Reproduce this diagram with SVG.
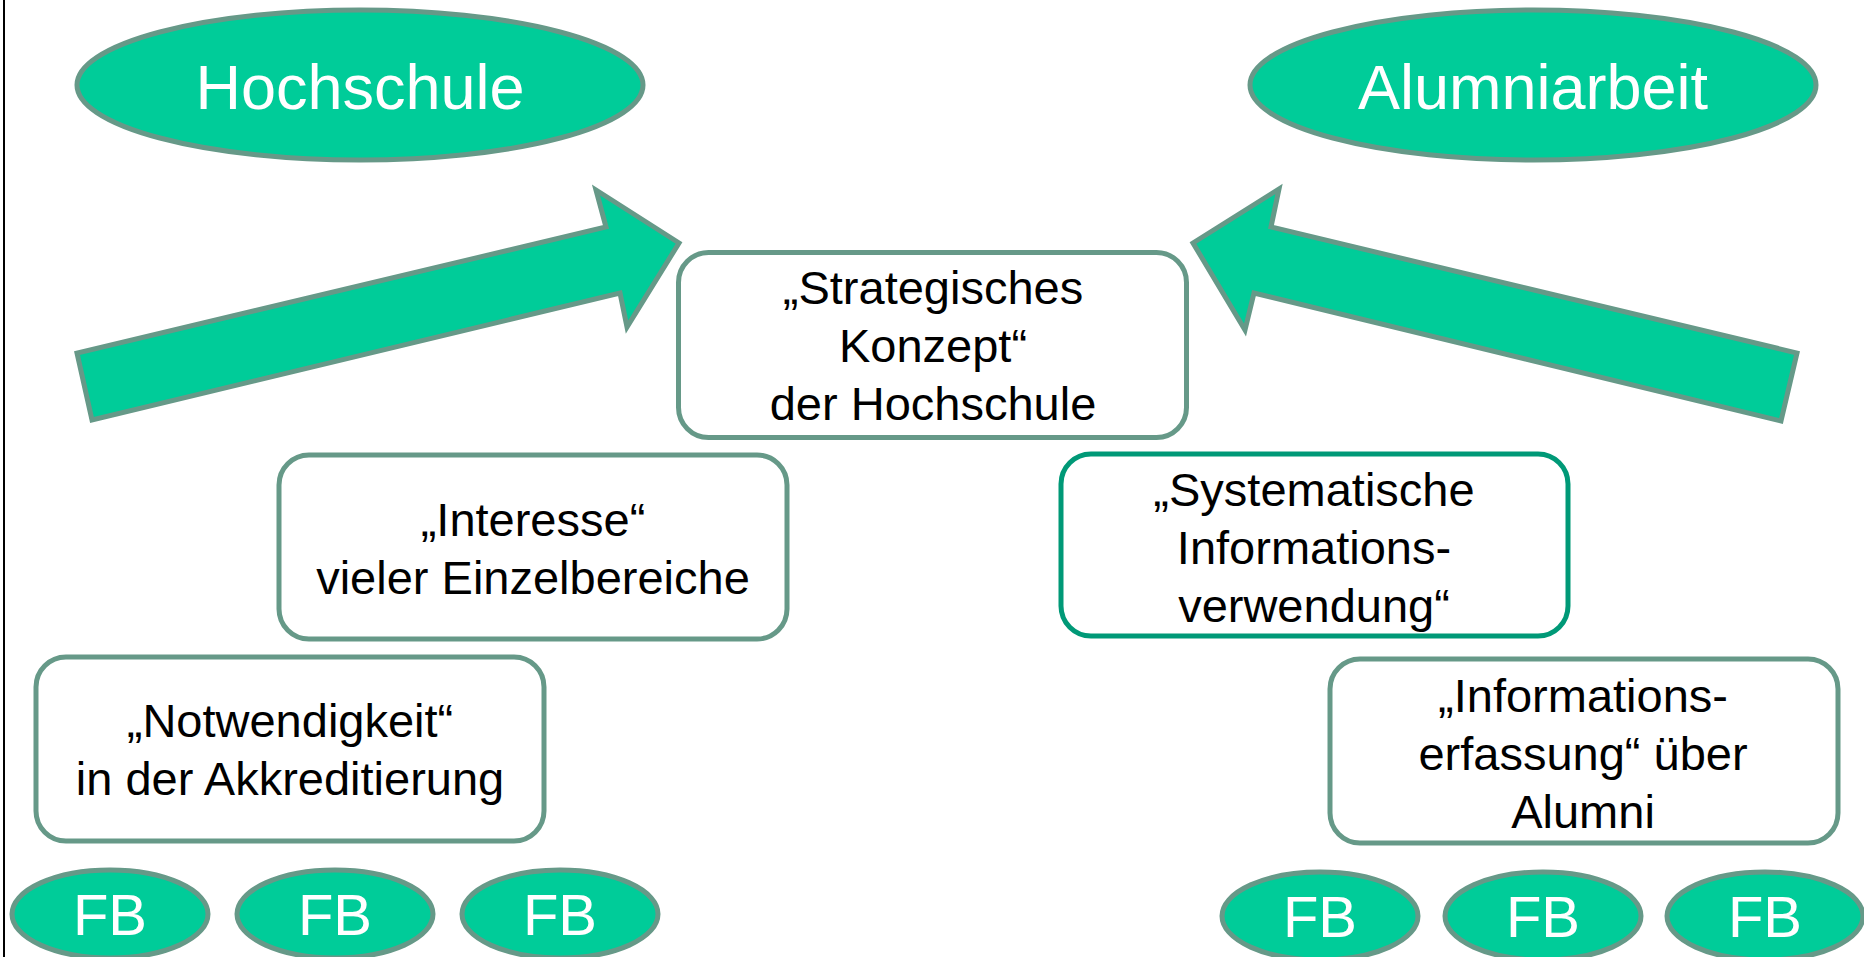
<svg xmlns="http://www.w3.org/2000/svg" width="1864" height="957" viewBox="0 0 1864 957">
<style>
.ell{fill:#00CC99;stroke:#669988;stroke-width:5}
.box{fill:#FFFFFF;stroke:#669988;stroke-width:5}
.box2{fill:#FFFFFF;stroke:#009977;stroke-width:5}
.arr{fill:#00CC99;stroke:#669988;stroke-width:5;stroke-linejoin:miter}
.big{font-family:"Liberation Sans",Arial,sans-serif;font-size:63px;fill:#FFFFFF;text-anchor:middle}
.fb{font-family:"Liberation Sans",Arial,sans-serif;font-size:58px;fill:#FFFFFF;text-anchor:middle}
.t{font-family:"Liberation Sans",Arial,sans-serif;font-size:47px;fill:#000000;text-anchor:middle}
</style>
<rect x="0" y="0" width="1864" height="957" fill="#FFFFFF"/>
<line x1="4" y1="0" x2="4" y2="957" stroke="#000000" stroke-width="2"/>
<g id="connectors">
<polygon class="arr" points="92,420 77,353 606,227 596,190 679,243 627,327 620,293"/>
<polygon class="arr" points="1781,421 1797,353 1271,227 1279,189 1193,243 1245,330 1254,293"/>
</g>
<g id="hochschule">
<ellipse class="ell" cx="360" cy="85" rx="283" ry="75"/>
<text class="big" x="360" y="109">Hochschule</text>
</g>
<g id="alumniarbeit">
<ellipse class="ell" cx="1533" cy="85" rx="283" ry="75"/>
<text class="big" x="1533" y="109">Alumniarbeit</text>
</g>
<g id="strategisches">
<rect class="box" x="678.5" y="252.5" width="508" height="185" rx="30"/>
<text class="t" x="933" y="304">„Strategisches</text>
<text class="t" x="933" y="362">Konzept“</text>
<text class="t" x="933" y="420">der Hochschule</text>
</g>
<g id="interesse">
<rect class="box" x="279" y="455" width="508" height="184" rx="30"/>
<text class="t" x="533" y="536">„Interesse“</text>
<text class="t" x="533" y="594">vieler Einzelbereiche</text>
</g>
<g id="notwendigkeit">
<rect class="box" x="36" y="657" width="508" height="184" rx="30"/>
<text class="t" x="290" y="737">„Notwendigkeit“</text>
<text class="t" x="290" y="795">in der Akkreditierung</text>
</g>
<g id="systematische">
<rect class="box2" x="1061" y="454" width="507" height="182" rx="30"/>
<text class="t" x="1314" y="506">„Systematische</text>
<text class="t" x="1314" y="564">Informations-</text>
<text class="t" x="1314" y="622">verwendung“</text>
</g>
<g id="informationserfassung">
<rect class="box" x="1330" y="659" width="508" height="184" rx="30"/>
<text class="t" x="1583" y="712">„Informations-</text>
<text class="t" x="1583" y="770">erfassung“ über</text>
<text class="t" x="1583" y="828">Alumni</text>
</g>
<g id="fb1"><ellipse class="ell" cx="110" cy="914" rx="98" ry="44"/><text class="fb" x="110" y="935">FB</text></g>
<g id="fb2"><ellipse class="ell" cx="335" cy="914" rx="98" ry="44"/><text class="fb" x="335" y="935">FB</text></g>
<g id="fb3"><ellipse class="ell" cx="560" cy="914" rx="98" ry="44"/><text class="fb" x="560" y="935">FB</text></g>
<g id="fb4"><ellipse class="ell" cx="1320" cy="916" rx="98" ry="44"/><text class="fb" x="1320" y="937">FB</text></g>
<g id="fb5"><ellipse class="ell" cx="1543" cy="916" rx="98" ry="44"/><text class="fb" x="1543" y="937">FB</text></g>
<g id="fb6"><ellipse class="ell" cx="1765" cy="916" rx="98" ry="44"/><text class="fb" x="1765" y="937">FB</text></g>
</svg>
